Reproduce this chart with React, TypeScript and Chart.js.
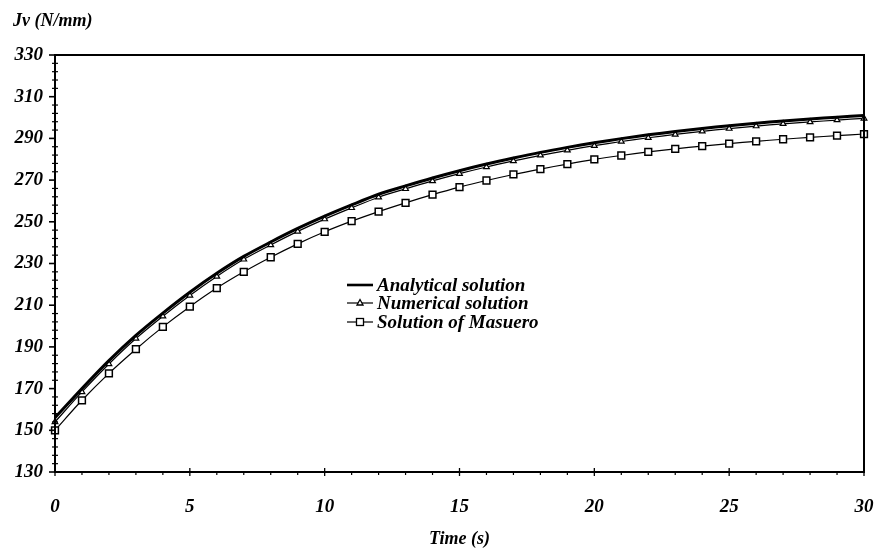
import React, { useEffect, useRef } from 'react';
import { Chart, registerables } from 'chart.js';

Chart.register(...registerables);

const times = [0, 1, 2, 3, 4, 5, 6, 7, 8, 9, 10, 11, 12, 13, 14, 15, 16, 17, 18, 19, 20, 21, 22, 23, 24, 25, 26, 27, 28, 29, 30];
const analytical = [156, 170, 183.4, 195.5, 206.2, 216.2, 225.3, 233.4, 240.3, 246.8, 252.7, 258.1, 263.2, 267.2, 271.0, 274.5, 277.7, 280.6, 283.3, 285.7, 287.9, 289.9, 291.7, 293.3, 294.8, 296.1, 297.3, 298.4, 299.3, 300.2, 301.0];
const numerical = [154, 168.4, 181.8, 194.0, 204.7, 214.7, 223.8, 232.0, 238.9, 245.4, 251.3, 256.7, 261.8, 265.8, 269.6, 273.1, 276.3, 279.2, 281.9, 284.3, 286.5, 288.5, 290.3, 291.9, 293.4, 294.7, 295.9, 297.0, 297.9, 298.8, 299.6];
const masuero = [150.0, 164.4, 177.3, 188.9, 199.6, 209.3, 218.2, 226.0, 233.0, 239.4, 245.2, 250.3, 254.9, 259.1, 263.0, 266.6, 269.8, 272.7, 275.3, 277.7, 279.9, 281.8, 283.5, 285.0, 286.3, 287.5, 288.6, 289.6, 290.5, 291.3, 292.1];
const seriesNames = ['Analytical solution', 'Numerical solution', 'Solution of Masuero'];
const xMajorTicks = [0, 5, 10, 15, 20, 25, 30];
const yMajorTicks = [130, 150, 170, 190, 210, 230, 250, 270, 290, 310, 330];
const yAxisTitle = 'Jv (N/mm)';
const xAxisTitle = 'Time (s)';

const FONT_FAMILY = '"Liberation Serif", "Times New Roman", serif';

const decorPlugin = {
  id: 'decor',
  afterDraw(chart: any) {
    const { ctx, chartArea: a, scales } = chart;
    const x = scales.x;
    const y = scales.y;
    ctx.save();
    ctx.strokeStyle = '#000';
    ctx.fillStyle = '#000';
    // frame
    ctx.lineWidth = 2;
    ctx.strokeRect(a.left, a.top, a.right - a.left, a.bottom - a.top);
    // y ticks: majors and 4 minors between
    const yMin = yMajorTicks[0];
    const yMax = yMajorTicks[yMajorTicks.length - 1];
    for (let v = yMin; v <= yMax; v += 4) {
      const py = y.getPixelForValue(v);
      const major = yMajorTicks.includes(v);
      ctx.lineWidth = major ? 1.6 : 1.2;
      ctx.beginPath();
      ctx.moveTo(a.left - (major ? 6 : 3), py);
      ctx.lineTo(a.left + (major ? 1 : 3), py);
      ctx.stroke();
    }
    // x ticks: majors and minors each unit
    for (const t of times) {
      const px = x.getPixelForValue(t);
      const major = xMajorTicks.includes(t);
      ctx.lineWidth = major ? 1.3 : 1.2;
      ctx.beginPath();
      ctx.moveTo(px, a.bottom - (major ? 4 : 0));
      ctx.lineTo(px, a.bottom + (major ? 4 : 3));
      ctx.stroke();
    }
    // y axis title
    ctx.font = `italic bold 18px ${FONT_FAMILY}`;
    ctx.textAlign = 'left';
    ctx.textBaseline = 'middle';
    ctx.fillText(yAxisTitle, 13, 21);

    // legend
    const lx0 = 347;
    const lx1 = 373;
    const rows = [285, 303, 322];
    ctx.font = `italic bold 19px ${FONT_FAMILY}`;
    rows.forEach((ry, i) => {
      ctx.lineWidth = i === 0 ? 2.6 : 1.2;
      ctx.beginPath();
      ctx.moveTo(lx0, ry);
      ctx.lineTo(lx1, ry);
      ctx.stroke();
      const cx = (lx0 + lx1) / 2;
      ctx.lineWidth = 1.3;
      if (i === 1) {
        ctx.beginPath();
        ctx.moveTo(cx, ry - 3.5);
        ctx.lineTo(cx + 3, ry + 2);
        ctx.lineTo(cx - 3, ry + 2);
        ctx.closePath();
        ctx.fillStyle = '#fff';
        ctx.fill();
        ctx.stroke();
        ctx.fillStyle = '#000';
      } else if (i === 2) {
        ctx.fillStyle = '#fff';
        ctx.fillRect(cx - 3.5, ry - 3.5, 7, 7);
        ctx.strokeRect(cx - 3.5, ry - 3.5, 7, 7);
        ctx.fillStyle = '#000';
      }
      ctx.fillText(seriesNames[i], lx1 + 4, ry + 1);
    });
    ctx.restore();
  },
};

export default function App() {
  const canvasRef = useRef<HTMLCanvasElement | null>(null);

  useEffect(() => {
    document.body.style.margin = '0';
    const canvas = canvasRef.current;
    if (!canvas) return;
    const tickFont = { family: FONT_FAMILY, size: 19, style: 'italic' as const, weight: 'bold' as const };
    const chart = new Chart(canvas, {
      type: 'line',
      data: {
        labels: times,
        datasets: [
          {
            label: seriesNames[0],
            data: times.map((t, i) => ({ x: t, y: analytical[i] })),
            borderColor: '#000',
            borderWidth: 3,
            pointRadius: 0,
            tension: 0.3,
            fill: false,
            order: 0,
            clip: false as any,
          },
          {
            label: seriesNames[1],
            data: times.map((t, i) => ({ x: t, y: numerical[i] })),
            borderColor: '#000',
            borderWidth: 1.2,
            pointStyle: 'triangle',
            pointRadius: 3.3,
            pointBorderWidth: 1.2,
            pointBackgroundColor: '#fff',
            pointBorderColor: '#000',
            tension: 0.3,
            fill: false,
            order: 1,
            clip: false as any,
          },
          {
            label: seriesNames[2],
            data: times.map((t, i) => ({ x: t, y: masuero[i] })),
            borderColor: '#000',
            borderWidth: 1.2,
            pointStyle: 'rect',
            pointRadius: 4.8,
            pointBorderWidth: 1.5,
            pointBackgroundColor: '#fff',
            pointBorderColor: '#000',
            tension: 0.3,
            fill: false,
            order: 2,
            clip: false as any,
          },
        ],
      },
      options: {
        animation: false,
        responsive: false,
        devicePixelRatio: 1,
        layout: { padding: { top: 55, right: 0, left: 0, bottom: 0 } },
        plugins: {
          legend: { display: false },
          tooltip: { enabled: false },
          title: { display: false },
        },
        scales: {
          x: {
            type: 'linear',
            min: 0,
            max: 30,
            grid: { display: false, drawTicks: false },
            border: { display: false },
            ticks: {
              stepSize: 5,
              autoSkip: false,
              padding: 24,
              color: '#000',
              font: tickFont,
              maxRotation: 0,
              callback: (v: any) => (xMajorTicks.includes(Number(v)) ? String(v) : ''),
            },
            title: {
              display: true,
              text: xAxisTitle,
              color: '#000',
              font: { family: FONT_FAMILY, size: 18, style: 'italic', weight: 'bold' },
              padding: { top: 0, bottom: 7 },
            },
            afterFit: (s: any) => {
              s.height = 85;
              s.paddingLeft = 0;
              s.paddingRight = 11;
            },
          },
          y: {
            min: 130,
            max: 330,
            grid: { display: false, drawTicks: false },
            border: { display: false },
            ticks: {
              stepSize: 20,
              padding: 12,
              color: '#000',
              font: tickFont,
              callback: (v: any) => String(v),
            },
            afterFit: (s: any) => {
              s.width = 55;
            },
          },
        },
      },
      plugins: [decorPlugin],
    });
    return () => {
      chart.destroy();
    };
  }, []);

  return (
    <div style={{ position: 'absolute', left: 0, top: 0, width: 875, height: 557, background: '#fff' }}>
      <canvas ref={canvasRef} width={875} height={557} style={{ width: 875, height: 557, display: 'block' }} />
    </div>
  );
}
